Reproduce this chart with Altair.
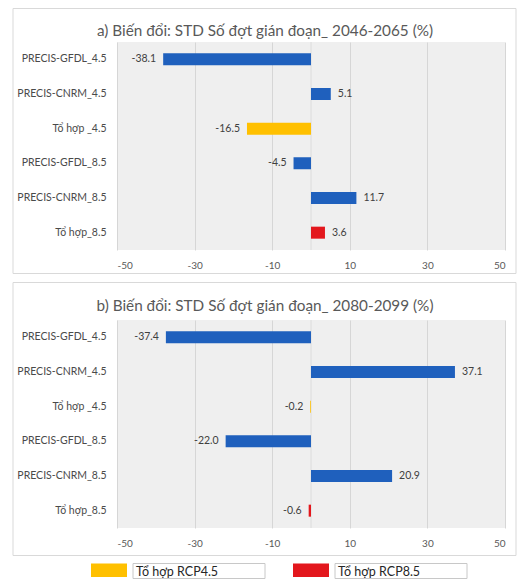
import altair as alt
import pandas as pd

# Categories (top to bottom) and their series group
categories = ["PRECIS-GFDL_4.5", "PRECIS-CNRM_4.5", "Tổ hợp _4.5",
              "PRECIS-GFDL_8.5", "PRECIS-CNRM_8.5", "Tổ hợp_8.5"]
groups = ["model", "model", "ens45", "model", "model", "ens85"]

# Change in STD of the number of interruption spells (%)
values_2046 = [-38.1, 5.1, -16.5, -4.5, 11.7, 3.6]
values_2080 = [-37.4, 37.1, -0.2, -22.0, 20.9, -0.6]

titles = ["a) Biến đổi: STD Số đợt gián đoạn_ 2046-2065 (%)",
          "b) Biến đổi: STD Số đợt gián đoạn_ 2080-2099 (%)"]
legend_labels = ["Tổ hợp RCP4.5", "Tổ hợp RCP8.5"]
tick_values = [-50, -30, -10, 10, 30, 50]

group_domain = ["model", "ens45", "ens85"]
group_colors = ["#1f60bd", "#ffc000", "#e3171d"]

FONT = "Lato"
W, H = 388, 208
HYPHEN = "replace(format(datum.value, '.1f'), '\u2212', '-')"


def one_row(text=""):
    return pd.DataFrame({"t": [text]})


def panel(values, title, box_top, box_bottom, title_y, with_legend=False):
    df = pd.DataFrame({"cat": categories, "grp": groups, "value": values})
    base = alt.Chart(df).transform_calculate(lbl=HYPHEN)

    y = alt.Y("cat:N", sort=categories, title=None,
              axis=alt.Axis(ticks=False, domain=False, labelPadding=11,
                            labelFontSize=10.5, labelColor="#4a4a4a",
                            labelFont=FONT))
    x = alt.X("value:Q", title=None,
              scale=alt.Scale(domain=[-50, 50], nice=False),
              axis=alt.Axis(values=tick_values, grid=True, gridColor="#d6d6d6",
                            domain=False, ticks=False, labelPadding=10,
                            labelFontSize=10, labelColor="#595959",
                            labelFont=FONT,
                            labelExpr="replace(datum.label, '\u2212', '-')"))

    zero = alt.Chart(one_row()).mark_rule(color="#dcdcdc", strokeWidth=1).encode(
        x=alt.datum(0))

    bars = base.mark_bar(size=12).encode(
        y=y, x=x,
        color=alt.Color("grp:N", legend=None,
                        scale=alt.Scale(domain=group_domain, range=group_colors)))

    neg = base.transform_filter("datum.value < 0").mark_text(
        align="right", dx=-7, fontSize=10.5, color="#404040", font=FONT).encode(
        y=alt.Y("cat:N", sort=categories), x="value:Q", text="lbl:N")
    pos = base.transform_filter("datum.value >= 0").mark_text(
        align="left", dx=7, fontSize=10.5, color="#404040", font=FONT).encode(
        y=alt.Y("cat:N", sort=categories), x="value:Q", text="lbl:N")

    box = alt.Chart(one_row()).mark_rect(
        fillOpacity=0, stroke="#d9d9d9", strokeWidth=1).encode(
        x=alt.value(-104), x2=alt.value(399),
        y=alt.value(box_top), y2=alt.value(box_bottom))

    head = alt.Chart(one_row(title)).mark_text(
        fontSize=15.3, color="#595959", font=FONT, baseline="middle").encode(
        x=alt.value(148), y=alt.value(title_y), text="t:N")

    layers = [zero, bars, neg, pos, box, head]

    if with_legend:
        for i, (lab, col) in enumerate(zip(legend_labels, [group_colors[1], group_colors[2]])):
            off = 202 * i
            sw = alt.Chart(one_row()).mark_rect(color=col).encode(
                x=alt.value(-26 + off), x2=alt.value(10 + off),
                y=alt.value(243.5), y2=alt.value(257))
            frame = alt.Chart(one_row()).mark_rect(
                fillOpacity=0, stroke="#c8c8c8", strokeWidth=1).encode(
                x=alt.value(16 + off), x2=alt.value(148 + off),
                y=alt.value(243.5), y2=alt.value(258.5))
            txt = alt.Chart(one_row(lab)).mark_text(
                align="left", baseline="middle", fontSize=12.5,
                color="#262626", font=FONT).encode(
                x=alt.value(19 + off), y=alt.value(252), text="t:N")
            layers += [sw, frame, txt]

    return alt.layer(*layers).properties(width=W, height=H)


chart = alt.vconcat(
    panel(values_2046, titles[0], -33.5, 231.5, -11.5),
    panel(values_2080, titles[1], -37.5, 235.5, -14, with_legend=True),
    spacing=70, bounds="flush",
).properties(
    padding={"left": 12, "top": 8, "right": 0, "bottom": 0},
    background="white",
).configure_view(
    fill="#efefef", stroke=None
)

chart.save("out.html", embed_options={"renderer": "svg", "actions": False})
